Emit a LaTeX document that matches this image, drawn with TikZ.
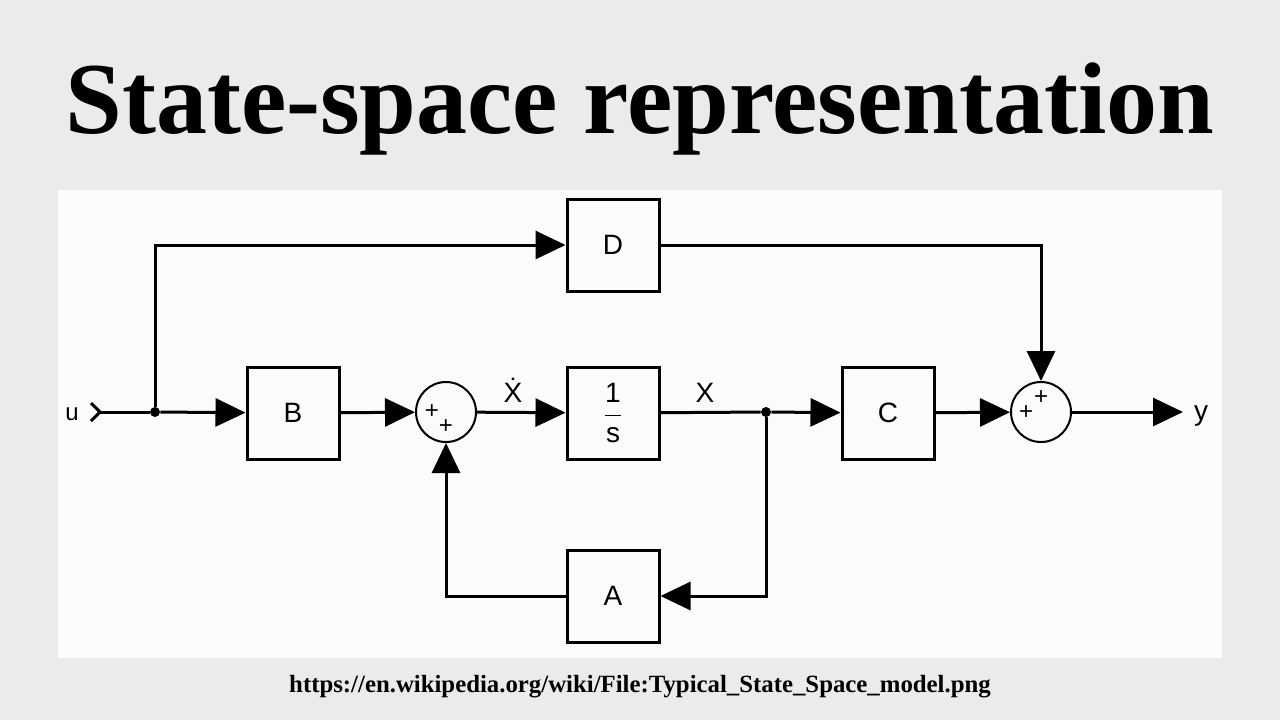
\documentclass[tikz,border=0pt]{standalone}
\usepackage{amsmath}
\usepackage{fontspec}
\setmainfont{Liberation Serif}
\newfontfamily\blockfont{Liberation Sans}
\usetikzlibrary{positioning, arrows.meta}
\definecolor{bggrey}{RGB}{235,236,234}
\definecolor{panelwhite}{RGB}{251,251,251}

\begin{document}
\begin{tikzpicture}[
    x=0.5pt, y=-0.5pt,
    block/.style={rectangle, draw, line width=1.5pt, minimum width=46pt, minimum height=46pt, inner sep=0pt, font=\blockfont\fontsize{14}{16}\selectfont},
    summer/.style={circle, draw, line width=1pt, minimum size=30pt, inner sep=0pt},
    sign/.style={inner sep=0pt, font=\blockfont\fontsize{12}{12}\selectfont},
    signal/.style={inner sep=0pt, anchor=base, font=\blockfont\fontsize{14}{16}\selectfont},
    joint/.style={circle, fill, minimum size=5pt, inner sep=0pt},
    wire/.style={line width=1.5pt},
    arrow/.style={-{Triangle[length=15pt, width=14pt]}, line width=1.5pt}
  ]
    % background and panel
    \fill[bggrey] (0,0) rectangle (1280,720);
    \fill[panelwhite] (58,190) rectangle (1222,658);

    \node[anchor=base, inner sep=0pt, font=\bfseries\fontsize{51}{56}\selectfont] (title) at (640,133) {State-space representation};
    \node[anchor=base, inner sep=0pt, font=\bfseries\fontsize{12.4}{14}\selectfont] (source) at (640,692) {https://en.wikipedia.org/wiki/File:Typical\_State\_Space\_model.png};

    % blocks
    \node[block] (D) at (613,245) {D};
    \node[block] (B) at (293,413) {B};
    \node[block] (integ) at (613,413) {$\dfrac{\text{1}}{\text{s}}$};
    \node[block] (C) at (888,413) {C};
    \node[block] (A) at (613,596) {A};
    \node[summer] (sum1) at (446,412) {};
    \node[summer] (sum2) at (1041,412) {};
    \node[sign] (sum1a) at (432,412) {+};
    \node[sign] (sum1b) at (446,427) {+};
    \node[sign] (sum2a) at (1026,413) {+};
    \node[sign] (sum2b) at (1041,398) {+};

    % signals
    \coordinate (uin) at (100,412);
    \coordinate (yout) at (1183,412);
    \node[joint] (split1) at (155,412) {};
    \node[joint] (split2) at (766,412) {};
    \node[signal, font=\blockfont\fontsize{12}{14}\selectfont] (u) at (72,420) {u};
    \node[signal] (y) at (1201,420) {y};
    \node[signal] (xdot) at (513,402) {\.{X}};
    \node[signal] (x) at (705,402) {X};

    % connectors
    \draw[wire] (uin) ++(-9,-9) -- (uin) -- ++(-9,9);
    \draw[wire] (uin) -- (split1);
    \draw[arrow] (split1) -- (B);
    \draw[arrow] (split1) |- (D);
    \draw[arrow] (B) -- (sum1);
    \draw[arrow] (sum1) -- (integ);
    \draw[wire] (integ) -- (split2);
    \draw[arrow] (split2) -- (C);
    \draw[arrow] (C) -- (sum2);
    \draw[arrow] (sum2) -- (yout);
    \draw[arrow] (D) -| (sum2);
    \draw[arrow] (split2) |- (A);
    \draw[arrow] (A) -| (sum1);
\end{tikzpicture}
\end{document}
